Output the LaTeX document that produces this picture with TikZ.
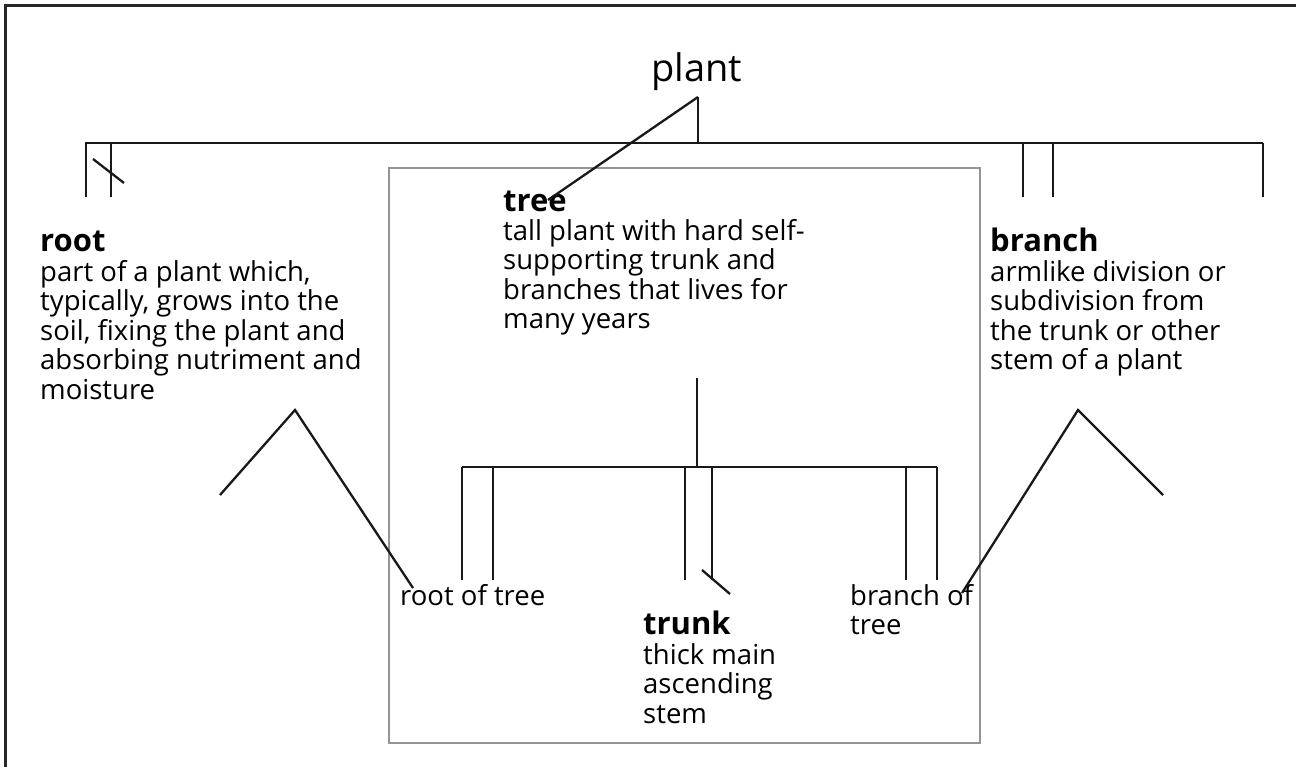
\documentclass[tikz,border=0pt]{standalone}
\usepackage{fontspec}
\setmainfont{Open Sans}
\begin{document}
\begin{tikzpicture}[x=1pt,y=-1pt,
  ln/.style={line width=2.3pt, black!90},
  bar/.style={line width=2.7pt, black!90},
  frame/.style={line width=3pt, black!85},
  grbox/.style={line width=2.8pt, black!42},
  body/.style={inner sep=0pt, align=left, anchor=north west,
    font=\fontsize{27.5}{29.5}\selectfont},
  word/.style={inner sep=0pt, anchor=base west, font=\fontsize{27.5}{29.5}\selectfont},
  hd/.style={inner sep=0pt, anchor=base west, font=\fontsize{31}{32}\selectfont\bfseries}]
\useasboundingbox (0,0) rectangle (1296,767);
\fill[white] (0,0) rectangle (1296,767);
% open frame: top and left edges only
\draw[frame] (5,767) -- (5,6) -- (1296,6);

% top concept
\node[inner sep=0pt, anchor=base, font=\fontsize{38}{40}\selectfont] (plant) at (697,82) {plant};
\coordinate (pA) at (698,97);
\coordinate (pB) at (698,143);
\coordinate (barL) at (85,143);
\coordinate (barR) at (1263,143);
\draw[ln] (pA) -- (pB);
\draw[bar] (barL) -- (barR);
% drops under the top bar
\foreach \x/\n in {86/a,111/b,1023/c,1053/d,1263/e}{
  \coordinate (t\n) at (\x,143);
  \coordinate (d\n) at (\x,197);
  \draw[ln] (t\n) -- (d\n);
}
\coordinate (s1a) at (93,159);
\coordinate (s1b) at (124,183);
\draw[ln] (s1a) -- (s1b);

% grey box
\draw[grbox] (389,168) rectangle (980,743);

% tree
\node[hd] (tree) at (503,212) {tree};
\node[body] (treedef) at (503,219) {tall plant with hard self-\\supporting trunk and\\branches that lives for\\many years};
\coordinate (tA) at (548,200);
\draw[ln] (tA) -- (pA);

% root
\node[hd] (root) at (40,252) {root};
\node[body] (rootdef) at (40,260) {part of a plant which,\\typically, grows into the\\soil, fixing the plant and\\absorbing nutriment and\\moisture};

% branch
\node[hd] (branch) at (990,252) {branch};
\node[body] (branchdef) at (990,260) {armlike division or\\subdivision from\\the trunk or other\\stem of a plant};

% lower tree
\coordinate (tr1) at (697,378);
\coordinate (tr2) at (697,467);
\coordinate (lbL) at (462,467);
\coordinate (lbR) at (937,467);
\draw[ln] (tr1) -- (tr2);
\draw[bar] (lbL) -- (lbR);
\foreach \x/\n in {462/a,493/b,685/c,712/d,906/e,937/f}{
  \coordinate (u\n) at (\x,467);
  \coordinate (v\n) at (\x,580);
  \draw[ln] (u\n) -- (v\n);
}
\coordinate (s2a) at (702,570);
\coordinate (s2b) at (730,594);
\draw[ln] (s2a) -- (s2b);

\node[word] (rot) at (400,605) {root of tree};
\node[body] (bot) at (850,584) {branch of\\tree};
\node[hd] (trunk) at (643,634) {trunk};
\node[body] (trunkdef) at (643,643) {thick main\\ascending\\stem};

% root and branch hierarchies
\coordinate (rA) at (295,410);
\coordinate (rL) at (220,495);
\coordinate (rR) at (413,588);
\draw[ln] (rL) -- (rA) -- (rR);
\coordinate (bA) at (1078,410);
\coordinate (bL) at (962,593);
\coordinate (bR) at (1163,495);
\draw[ln] (bL) -- (bA) -- (bR);
\end{tikzpicture}
\end{document}
